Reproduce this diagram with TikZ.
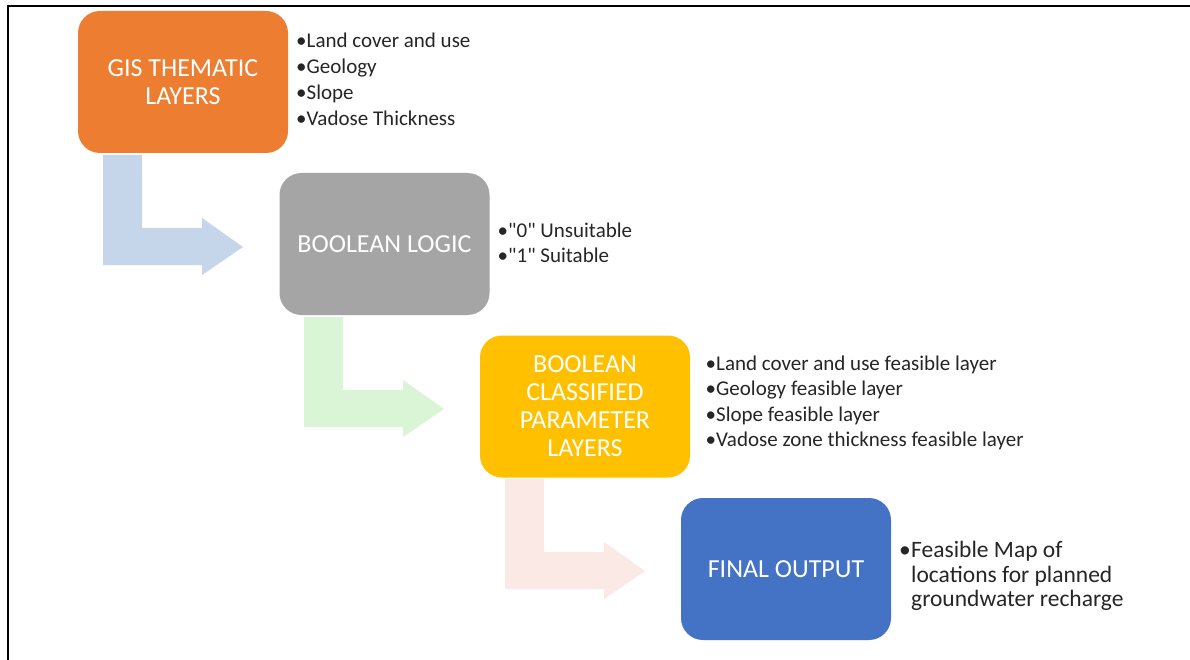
\documentclass[tikz,border=0pt]{standalone}
\usepackage{fontspec}
\setmainfont{Carlito}[Ligatures=TeXOff]
\definecolor{orgc}{HTML}{ED7D31}
\definecolor{gryc}{HTML}{A5A5A5}
\definecolor{ylwc}{HTML}{FFC000}
\definecolor{bluc}{HTML}{4472C4}
\definecolor{arrA}{HTML}{C5D5EA}
\definecolor{arrB}{HTML}{DAF5D6}
\definecolor{arrC}{HTML}{FBE9E5}
\definecolor{txtc}{HTML}{262626}
\newcommand\bl{\makebox[10.5pt][l]{•}}
\begin{document}
\begin{tikzpicture}[x=1pt,y=-1pt,
  box/.style={rounded corners=22pt, minimum width=210pt, minimum height=142pt,
    inner sep=0pt, align=center, text=white, font=\fontsize{26}{28}\selectfont},
  item/.style={anchor=base west, inner sep=0pt, text=txtc, font=\fontsize{21}{26}\selectfont},
  itemb/.style={anchor=base west, inner sep=0pt, text=txtc, font=\fontsize{23.5}{25}\selectfont},
  frameline/.style={line width=2.3pt, black}]
\useasboundingbox (0,0) rectangle (1190,660);
\fill[white] (0,0) rectangle (1190,660);
\draw[frameline] (8,660) -- (8,6) -- (1190,6);
% bent arrows
\foreach \dx/\dy/\c in {0/0/arrA, 201/162/arrB, 402/324/arrC}{
  \fill[\c, shift={(\dx,\dy)}] (103,155) -- (142,155) -- (142,228) -- (202,228) -- (202,218)
     -- (243,247) -- (202,275) -- (202,265) -- (103,265) -- cycle;
}
% boxes
\node[box, fill=orgc] (A) at (183,82) {GIS THEMATIC\\LAYERS};
\node[box, fill=gryc] (B) at (384.5,244) {BOOLEAN LOGIC};
\node[box, fill=ylwc] (C) at (585,406.5) {BOOLEAN\\CLASSIFIED\\PARAMETER\\LAYERS};
\node[box, fill=bluc] (D) at (786,569) {FINAL OUTPUT};
% lists
\node[item] (a1) at (296,48) {\bl Land cover and use};
\node[item] (a2) at (296,74) {\bl Geology};
\node[item] (a3) at (296,100) {\bl Slope};
\node[item] (a4) at (296,126) {\bl Vadose Thickness};
\node[item] (b1) at (497.5,237) {\bl "0" Unsuitable};
\node[item] (b2) at (497.5,262) {\bl "1" Suitable};
\node[item] (c1) at (705.5,370) {\bl Land cover and use feasible layer};
\node[item] (c2) at (705.5,395.5) {\bl Geology feasible layer};
\node[item] (c3) at (705.5,421) {\bl Slope feasible layer};
\node[item] (c4) at (705.5,446.5) {\bl Vadose zone thickness feasible layer};
\node[itemb] (d1) at (899,557) {\makebox[12pt][l]{•}Feasible Map of};
\node[itemb] (d2) at (911,582) {locations for planned};
\node[itemb] (d3) at (911,606.5) {groundwater recharge};
\end{tikzpicture}
\end{document}
